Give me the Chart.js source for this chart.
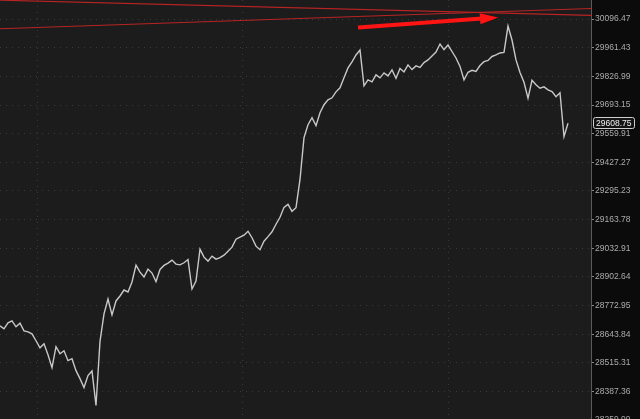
<!DOCTYPE html>
<html>
<head>
<meta charset="utf-8">
<script src="https://cdn.jsdelivr.net/npm/chart.js@4/dist/chart.umd.min.js"></script>
<style>
  html, body { margin: 0; padding: 0; background: #1c1c1c; overflow: hidden; }
  #wrap { width: 640px; height: 419px; }
</style>
</head>
<body>
<div id="wrap"><canvas id="chart"></canvas></div>
<script>
// price samples, one every bar step (index = bar number)
const closes = [
  28681.6, 28668.0, 28695.0, 28704.0, 28677.1, 28693.4, 28659.1, 28654.6, 28645.6, 28614.4,
  28583.0, 28601.0, 28551.8, 28493.8, 28587.6, 28556.2, 28569.6, 28525.1, 28534.0, 28480.5,
  28444.9, 28404.9, 28458.2, 28478.9, 28325.2, 28612.0, 28735.3, 28802.8, 28730.9, 28793.8,
  28816.3, 28843.3, 28834.3, 28879.5, 28956.4, 28924.6, 28902.0, 28938.2, 28920.1, 28881.2,
  28936.7, 28954.8, 28965.4, 28979.0, 28960.9, 28957.3, 28967.0, 28981.5, 28847.8, 28884.0,
  29028.8, 28992.6, 28974.5, 28997.1, 28983.5, 28990.4, 29001.6, 29019.7, 29038.0, 29074.3,
  29083.4, 29092.5, 29110.6, 29081.0, 29042.5, 29026.3, 29065.2, 29085.9, 29108.2, 29142.6,
  29174.5, 29220.2, 29233.9, 29201.8, 29218.5, 29348.3, 29541.7, 29601.8, 29634.2, 29597.2,
  29657.4, 29694.6, 29717.8, 29727.0, 29754.9, 29773.6, 29820.2, 29866.9, 29894.9, 29927.6,
  29950.9, 29782.9, 29810.8, 29801.5, 29834.1, 29820.2, 29843.4, 29829.5, 29857.4, 29818.0,
  29864.5, 29848.1, 29880.9, 29859.0, 29876.2, 29869.1, 29892.0, 29904.2, 29922.9, 29941.6,
  29979.1, 29952.7, 29974.4, 29943.9, 29913.5, 29874.0, 29810.8, 29846.3, 29855.6, 29850.2,
  29877.8, 29896.3, 29902.0, 29920.5, 29927.6, 29936.9, 29939.8, 30063.6, 29997.9, 29904.2,
  29845.7, 29799.3, 29724.8, 29808.6, 29787.6, 29771.9, 29778.3, 29764.2, 29756.1, 29731.7,
  29750.3, 29546.3, 29608.75
];
const bars = closes.map((_, i) => i);
const lastPrice = 29608.75;

// right axis price levels
const priceTicks = [
  30096.47, 29961.43, 29826.99, 29693.15, 29559.91, 29427.27, 29295.23, 29163.78,
  29032.91, 28902.64, 28772.95, 28643.84, 28515.31, 28387.36, 28259.99
];
// vertical grid (session marks, in bar units)
const timeMarks = [9.25, 60.6, 112];

// drawn trend lines + arrow (bar, price)
const trendA = [{ x: 0, y: 30186.3 }, { x: 147.75, y: 30114.3 }];
const trendB = [{ x: 0, y: 30050.8 }, { x: 147.75, y: 30146.8 }];
const arrowPts = [{ x: 89.5, y: 30057.4 }, { x: 124.5, y: 30104.5 }];

const FONT = { family: "'Liberation Sans', Arial, sans-serif", size: 8.5 };

const chromePlugin = {
    id: "chrome",
    beforeDraw(chart) {
        const { ctx, chartArea } = chart;
        ctx.save();
        ctx.fillStyle = "#1c1c1c";
        ctx.fillRect(0, 0, chart.width, chart.height);
        ctx.fillStyle = "#0b0b0b";
        ctx.fillRect(chartArea.right, 0, chart.width - chartArea.right, chart.height);
        ctx.restore();
    },
    afterDatasetsDraw(chart) {
        const { ctx, scales } = chart;
        const xs = scales.x;
        const ys = scales.y;

        // arrow
        const x0 = xs.getPixelForValue(arrowPts[0].x);
        const y0 = ys.getPixelForValue(arrowPts[0].y);
        const x1 = xs.getPixelForValue(arrowPts[1].x);
        const y1 = ys.getPixelForValue(arrowPts[1].y);
        const len = Math.hypot(x1 - x0, y1 - y0);
        const ux = (x1 - x0) / len;
        const uy = (y1 - y0) / len;
        const headLen = 18;
        const headHalf = 5.5;
        const bx = x1 - ux * headLen;
        const by = y1 - uy * headLen;

        ctx.save();
        ctx.strokeStyle = "#ff1414";
        ctx.fillStyle = "#ff1414";
        ctx.lineWidth = 4;
        ctx.beginPath();
        ctx.moveTo(x0, y0);
        ctx.lineTo(bx + ux * 2, by + uy * 2);
        ctx.stroke();
        ctx.beginPath();
        ctx.moveTo(x1, y1);
        ctx.lineTo(bx - uy * headHalf, by + ux * headHalf);
        ctx.lineTo(bx + uy * headHalf, by - ux * headHalf);
        ctx.closePath();
        ctx.fill();
        ctx.restore();
    },
    afterDraw(chart) {
        const { ctx, scales, chartArea } = chart;
        const y = Math.round(scales.y.getPixelForValue(lastPrice));
        const left = chartArea.right + 2.5;
        const text = lastPrice.toFixed(2);

        ctx.save();
        ctx.font = `${FONT.size}px ${FONT.family}`;
        const w = Math.ceil(ctx.measureText(text).width) + 5;
        ctx.fillStyle = "#141414";
        ctx.strokeStyle = "#cfcfcf";
        ctx.lineWidth = 1;
        ctx.beginPath();
        ctx.roundRect(left, y - 5.5, w, 11, 2);
        ctx.fill();
        ctx.stroke();
        ctx.fillStyle = "#f0f0f0";
        ctx.textBaseline = "middle";
        ctx.textAlign = "left";
        ctx.fillText(text, left + 2.5, y + 0.5);
        ctx.restore();
    }
};

new Chart(document.getElementById("chart").getContext("2d"), {
    type: "line",
    data: {
        labels: bars,
        datasets: [
            {
                label: "Trend A",
                data: trendA,
                borderColor: "#b82424",
                borderWidth: 1.1,
                pointRadius: 0,
                order: 2
            },
            {
                label: "Trend B",
                data: trendB,
                borderColor: "#b82424",
                borderWidth: 1.1,
                pointRadius: 0,
                order: 2
            },
            {
                label: "Price",
                data: closes,
                borderColor: "#c8c8c8",
                borderWidth: 1.4,
                pointRadius: 0,
                tension: 0,
                order: 1
            }
        ]
    },
    options: {
        animation: false,
        responsive: true,
        maintainAspectRatio: false,
        layout: { padding: 0 },
        plugins: {
            legend: { display: false },
            tooltip: { enabled: false }
        },
        scales: {
            x: {
                type: "linear",
                min: 0,
                max: 147.75,
                afterBuildTicks: (scale) => {
                    scale.ticks = timeMarks.map((v) => ({ value: v }));
                },
                afterFit: (scale) => {
                    scale.height = 0;
                    scale.paddingLeft = 0;
                    scale.paddingRight = 0;
                },
                ticks: { display: false },
                grid: { color: "#3a3a3a", drawTicks: false },
                border: { display: false, dash: [1, 5] }
            },
            y: {
                type: "logarithmic",
                position: "right",
                min: 28265,
                max: 30187,
                afterBuildTicks: (scale) => {
                    scale.ticks = priceTicks.map((v) => ({ value: v }));
                },
                afterFit: (scale) => {
                    scale.width = 49;
                    scale.paddingTop = 0;
                    scale.paddingBottom = 0;
                },
                ticks: {
                    color: "#ababab",
                    font: FONT,
                    padding: 1,
                    autoSkip: false,
                    callback: (v) => Number(v).toFixed(2)
                },
                grid: {
                    color: "#3a3a3a",
                    tickColor: "#8a8a8a",
                    tickLength: 3,
                    tickBorderDash: []
                },
                border: { display: true, color: "#5a5a5a", width: 1, dash: [1, 5] }
            }
        }
    },
    plugins: [chromePlugin]
});
</script>
</body>
</html>
